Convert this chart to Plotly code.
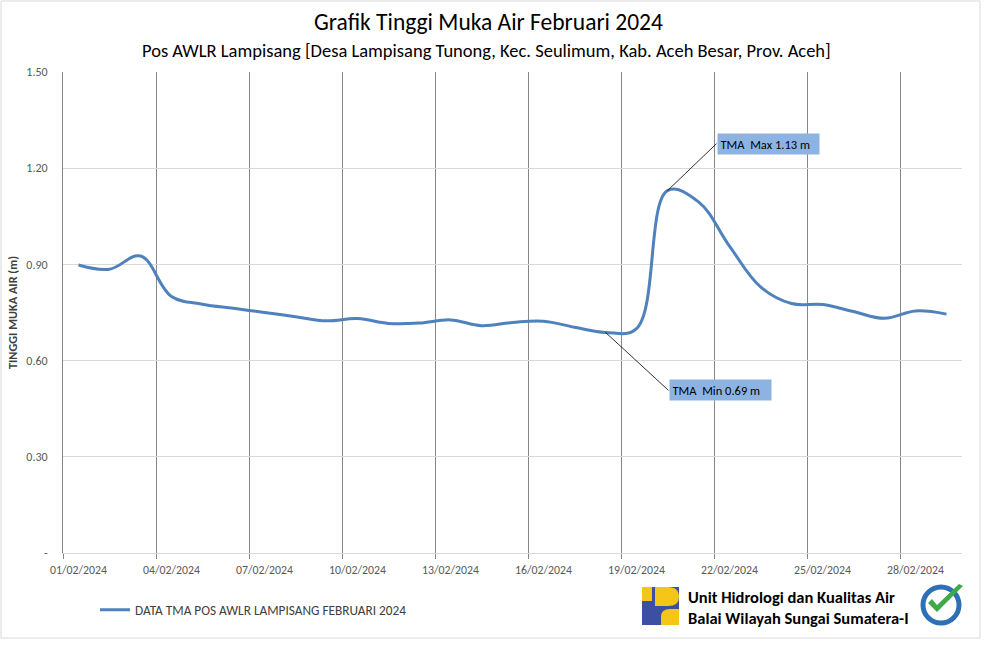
import plotly.graph_objects as go

# ---------------- data ----------------
days = [f"2024-02-{d:02d} 12:00" for d in range(1, 30)]
tma = [0.898, 0.885, 0.926, 0.800, 0.776, 0.763, 0.750, 0.737, 0.724, 0.731,
       0.716, 0.717, 0.727, 0.709, 0.719, 0.723, 0.704, 0.688, 0.700, 1.130,
       1.095, 0.957, 0.830, 0.778, 0.775, 0.753, 0.732, 0.755, 0.745]
tick_days = ["2024-02-01", "2024-02-04", "2024-02-07", "2024-02-10", "2024-02-13",
             "2024-02-16", "2024-02-19", "2024-02-22", "2024-02-25", "2024-02-28"]
tick_labels = ["01/02/2024", "04/02/2024", "07/02/2024", "10/02/2024", "13/02/2024",
               "16/02/2024", "19/02/2024", "22/02/2024", "25/02/2024", "28/02/2024"]
y_ticks = [0, 0.3, 0.6, 0.9, 1.2, 1.5]
y_labels = ["-", "0.30", "0.60", "0.90", "1.20", "1.50"]
series_name = "DATA TMA POS AWLR LAMPISANG FEBRUARI 2024"
max_idx, min_idx = 19, 17
max_text = "TMA  Max 1.13 m"
min_text = "TMA  Min 0.69 m"

# ---------------- layout helpers ----------------
L, R, T, B = 63, 962, 72, 553
W, H = 984, 660


def px(x):
    return (x - L) / (R - L)


def py(y):
    return (B - y) / (B - T)


FONT = "Calibri, Carlito, Lato, sans-serif"

fig = go.Figure()
fig.add_trace(go.Scatter(
    x=days, y=tma, mode="lines", name=series_name,
    line=dict(color="#4f81bd", width=3, shape="spline", smoothing=1.1),
    hoverinfo="x+y",
))

shapes = []
# chart border
shapes.append(dict(type="rect", xref="paper", yref="paper",
                   x0=px(1), x1=px(980), y0=py(1), y1=py(638),
                   line=dict(color="#d9d9d9", width=1), fillcolor="rgba(0,0,0,0)", layer="below"))
# PU logo (approximation)
shapes.append(dict(type="rect", xref="paper", yref="paper", x0=px(642), x1=px(679), y0=py(587), y1=py(625),
                   line=dict(width=0), fillcolor="#3d4fa0"))
shapes.append(dict(type="rect", xref="paper", yref="paper", x0=px(642), x1=px(652), y0=py(587), y1=py(601),
                   line=dict(width=0), fillcolor="#f5c518"))
shapes.append(dict(type="path", xref="paper", yref="paper",
                   path=f"M {px(655)} {py(587)} L {px(668)} {py(587)} Q {px(679)} {py(587)} {px(679)} {py(597)} "
                        f"Q {px(679)} {py(606)} {px(668)} {py(606)} L {px(655)} {py(606)} Z",
                   line=dict(width=0), fillcolor="#f5c518"))
shapes.append(dict(type="path", xref="paper", yref="paper",
                   path=f"M {px(661)} {py(625)} L {px(661)} {py(617)} Q {px(661)} {py(609)} {px(670)} {py(609)} "
                        f"L {px(679)} {py(609)} L {px(679)} {py(625)} Z",
                   line=dict(width=0), fillcolor="#f5c518"))
# certification badge (approximation)
shapes.append(dict(type="circle", xref="paper", yref="paper", x0=px(923), x1=px(959), y0=py(587), y1=py(623),
                   line=dict(color="#2f6fb6", width=5), fillcolor="white"))
shapes.append(dict(type="path", xref="paper", yref="paper",
                   path=f"M {px(928)} {py(603)} L {px(937)} {py(612)} L {px(963)} {py(586)} "
                        f"L {px(959)} {py(584)} L {px(937)} {py(605)} L {px(932)} {py(599)} Z",
                   line=dict(width=0), fillcolor="#3daa47"))

annotations = [
    dict(text="Grafik Tinggi Muka Air Februari 2024", x=px(488), y=py(22), xref="paper", yref="paper",
         showarrow=False, xanchor="center", yanchor="middle",
         font=dict(family=FONT, size=23.5, color="#000000")),
    dict(text="Pos AWLR Lampisang [Desa Lampisang Tunong, Kec. Seulimum, Kab. Aceh Besar, Prov. Aceh]",
         x=px(486), y=py(50), xref="paper", yref="paper", showarrow=False, xanchor="center", yanchor="middle",
         font=dict(family=FONT, size=18.5, color="#000000")),
    dict(text=max_text, x=days[max_idx], y=tma[max_idx], xref="x", yref="y",
         showarrow=True, arrowhead=0, arrowwidth=0.8, arrowcolor="#000000",
         ax=49, ay=-47, axref="pixel", ayref="pixel", xanchor="left", yanchor="middle",
         bgcolor="#8db3e2", borderpad=2.5, width=96, align="left",
         font=dict(family=FONT, size=12.5, color="#000000")),
    dict(text=min_text, x=days[min_idx], y=tma[min_idx], xref="x", yref="y",
         showarrow=True, arrowhead=0, arrowwidth=0.8, arrowcolor="#000000",
         ax=63, ay=58, axref="pixel", ayref="pixel", xanchor="left", yanchor="middle",
         bgcolor="#8db3e2", borderpad=2.5, width=96, align="left",
         font=dict(family=FONT, size=12.5, color="#000000")),
    dict(text="<b>Unit Hidrologi dan Kualitas Air</b>", x=px(686), y=py(597), xref="paper", yref="paper",
         showarrow=False, xanchor="left", yanchor="middle",
         font=dict(family=FONT, size=16.5, color="#000000")),
    dict(text="<b>Balai Wilayah Sungai Sumatera-I</b>", x=px(686), y=py(618), xref="paper", yref="paper",
         showarrow=False, xanchor="left", yanchor="middle",
         font=dict(family=FONT, size=16.5, color="#000000")),
]

fig.update_layout(
    width=W, height=H,
    margin=dict(l=L, r=W - R, t=T, b=H - B, pad=0),
    paper_bgcolor="white", plot_bgcolor="white",
    font=dict(family=FONT, size=10, color="#595959"),
    showlegend=True,
    legend=dict(orientation="h", x=px(95), y=py(610), xanchor="left", yanchor="middle",
                font=dict(family=FONT, size=13.3, color="#404040"), bgcolor="rgba(0,0,0,0)",
                itemwidth=30),
    shapes=shapes,
    annotations=annotations,
    xaxis=dict(
        type="date", range=["2024-02-01", "2024-03-01"],
        tickmode="array", tickvals=[d + " 12:00" for d in tick_days], ticktext=tick_labels,
        showgrid=False, ticks="outside", ticklen=6, tickcolor="rgba(0,0,0,0)", zeroline=False,
        showline=True, linecolor="#d9d9d9", linewidth=1,
        tickfont=dict(family=FONT, size=11.8, color="#595959"),
        minor=dict(tickmode="array", tickvals=tick_days, showgrid=True, gridcolor="#878787", gridwidth=1,
                   ticks="outside", ticklen=5, tickcolor="#878787", tickwidth=1),
    ),
    yaxis=dict(
        range=[0, 1.5], tickmode="array", tickvals=y_ticks, ticktext=y_labels,
        showgrid=True, gridcolor="#d9d9d9", gridwidth=1, zeroline=False,
        showline=True, linecolor="#878787", linewidth=1,
        ticks="outside", ticklen=12, tickcolor="rgba(0,0,0,0)",
        tickfont=dict(family=FONT, size=12, color="#595959"),
        title=dict(text="<b>TINGGI MUKA AIR (m)</b>", standoff=6,
                   font=dict(family=FONT, size=12.3, color="#404040")),
    ),
)

fig.write_html("out.html", config={"displayModeBar": False},
               post_script="document.body.style.margin='0';")
